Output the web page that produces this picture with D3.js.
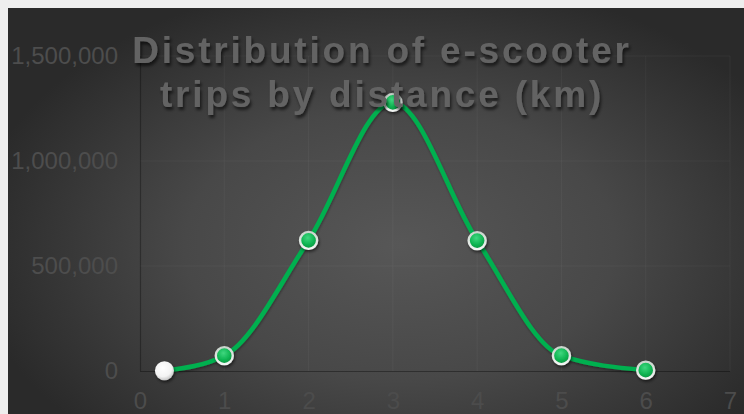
<!DOCTYPE html>
<html>
<head>
<meta charset="utf-8">
<script src="https://cdn.jsdelivr.net/npm/d3@7"></script>
<style>
  html, body { margin: 0; padding: 0; background: #eeeeee; }
  svg { display: block; }
</style>
</head>
<body>
<svg id="chart" width="744" height="414"></svg>
<script>
// Trips per distance bucket (km)
const distanceKm = [0.29, 1, 2, 3, 4, 5, 6];
const tripCounts = [1000, 73000, 622000, 1279000, 621000, 73000, 4000];
const xTickValues = [0, 1, 2, 3, 4, 5, 6, 7];
const yTickValues = [0, 500000, 1000000, 1500000];
const titleLines = ["Distribution of e-scooter", "trips by distance (km)"];

const svg = d3.select("#chart");
const W = 744, H = 414;
const plot = { left: 140, right: 730, top: 56, bottom: 371 };

const defs = svg.append("defs");

// panel background: soft elliptical light in the middle
const bg = defs.append("radialGradient")
  .attr("id", "bgGrad").attr("gradientUnits", "userSpaceOnUse")
  .attr("cx", 0).attr("cy", 0).attr("r", 1)
  .attr("gradientTransform", "translate(400,245) scale(430,270)");
bg.append("stop").attr("offset", 0).attr("stop-color", "#575757");
bg.append("stop").attr("offset", 0.5).attr("stop-color", "#484848");
bg.append("stop").attr("offset", 0.8).attr("stop-color", "#363636");
bg.append("stop").attr("offset", 1).attr("stop-color", "#2a2a2a");

// marker fills
const g1 = defs.append("radialGradient").attr("id", "dotGreen")
  .attr("cx", "45%").attr("cy", "35%").attr("r", "65%");
g1.append("stop").attr("offset", 0).attr("stop-color", "#3fd77f");
g1.append("stop").attr("offset", 0.6).attr("stop-color", "#0fb552");
g1.append("stop").attr("offset", 1).attr("stop-color", "#07913f");

const ring = defs.append("linearGradient").attr("id", "ringGrad")
  .attr("x1", 0).attr("y1", 0).attr("x2", 0).attr("y2", 1);
ring.append("stop").attr("offset", 0).attr("stop-color", "#c9d4cc");
ring.append("stop").attr("offset", 1).attr("stop-color", "#f2f5f3");

const w1 = defs.append("radialGradient").attr("id", "dotWhite")
  .attr("cx", "42%").attr("cy", "35%").attr("r", "70%");
w1.append("stop").attr("offset", 0).attr("stop-color", "#ffffff");
w1.append("stop").attr("offset", 0.65).attr("stop-color", "#f3f3f3");
w1.append("stop").attr("offset", 1).attr("stop-color", "#bdbdbd");

const shadow = defs.append("filter").attr("id", "dotShadow")
  .attr("x", "-50%").attr("y", "-50%").attr("width", "200%").attr("height", "200%");
shadow.append("feDropShadow").attr("dx", 1).attr("dy", 2).attr("stdDeviation", 1.5)
  .attr("flood-color", "#000").attr("flood-opacity", 0.55);

const tShadow = defs.append("filter").attr("id", "titleShadow")
  .attr("x", "-10%").attr("y", "-30%").attr("width", "120%").attr("height", "160%");
tShadow.append("feDropShadow").attr("dx", 1.5).attr("dy", 3).attr("stdDeviation", 1.8)
  .attr("flood-color", "#000").attr("flood-opacity", 0.6);

const lineShadow = defs.append("filter").attr("id", "lineShadow")
  .attr("x", "-10%").attr("y", "-10%").attr("width", "120%").attr("height", "120%");
lineShadow.append("feDropShadow").attr("dx", 0.5).attr("dy", 1.5).attr("stdDeviation", 1)
  .attr("flood-color", "#000").attr("flood-opacity", 0.35);

svg.append("rect").attr("x", 8).attr("y", 8).attr("width", W - 8).attr("height", H - 8)
  .attr("fill", "url(#bgGrad)");

const x = d3.scaleLinear().domain([0, 7]).range([plot.left, plot.right]);
const y = d3.scaleLinear().domain([0, 1500000]).range([plot.bottom, plot.top]);

// grid
const grid = svg.append("g");
grid.selectAll(".gy").data(yTickValues.slice(1)).join("line")
  .attr("x1", plot.left).attr("x2", plot.right)
  .attr("y1", d => y(d)).attr("y2", d => y(d))
  .attr("stroke", "rgba(255,255,255,0.045)").attr("stroke-width", 1);
grid.selectAll(".gx").data(xTickValues.slice(1)).join("line")
  .attr("x1", d => x(d)).attr("x2", d => x(d))
  .attr("y1", plot.top).attr("y2", plot.bottom)
  .attr("stroke", "rgba(255,255,255,0.04)").attr("stroke-width", 1);

// axis lines
svg.append("line").attr("x1", plot.left).attr("x2", plot.right)
  .attr("y1", y(0) + 0.5).attr("y2", y(0) + 0.5)
  .attr("stroke", "rgba(0,0,0,0.35)").attr("stroke-width", 1.2);
svg.append("line").attr("x1", plot.left + 0.5).attr("x2", plot.left + 0.5)
  .attr("y1", plot.top).attr("y2", plot.bottom)
  .attr("stroke", "rgba(0,0,0,0.3)").attr("stroke-width", 1.2);

// tick labels
const fmt = d3.format(",");
const yAxis = d3.axisLeft(y).tickValues(yTickValues).tickFormat(fmt).tickSize(0).tickPadding(22);
const yG = svg.append("g").attr("transform", `translate(${plot.left},0)`).call(yAxis);
yG.select(".domain").remove();
yG.selectAll("text")
  .attr("fill", "#4d4d4d").attr("font-family", "'Liberation Sans', Arial, sans-serif")
  .attr("font-size", 24);

const xAxis = d3.axisBottom(x).tickValues(xTickValues).tickFormat(d3.format("d")).tickSize(0).tickPadding(21);
const xG = svg.append("g").attr("transform", `translate(0,${plot.bottom})`).call(xAxis);
xG.select(".domain").remove();
xG.selectAll("text")
  .attr("fill", "#4c4c4c").attr("font-family", "'Liberation Sans', Arial, sans-serif")
  .attr("font-size", 24);

// series
const pts = distanceKm.map((d, i) => ({ x: d, y: tripCounts[i] }));
const line = d3.line().x(d => x(d.x)).y(d => y(d.y)).curve(d3.curveMonotoneX);
svg.append("path").datum(pts).attr("d", line)
  .attr("fill", "none").attr("stroke", "#00b04f").attr("stroke-width", 4.5)
  .attr("stroke-linejoin", "round").attr("filter", "url(#lineShadow)");

const dots = svg.append("g").attr("filter", "url(#dotShadow)");
dots.selectAll("circle.pt").data(pts.slice(1)).join("circle")
  .attr("class", "pt")
  .attr("cx", d => x(d.x)).attr("cy", d => y(d.y)).attr("r", 8.5)
  .attr("fill", "url(#dotGreen)").attr("stroke", "url(#ringGrad)").attr("stroke-width", 2.4);
dots.selectAll("circle.sel").data(pts.slice(0, 1)).join("circle")
  .attr("class", "sel")
  .attr("cx", d => x(d.x)).attr("cy", d => y(d.y)).attr("r", 9.5)
  .attr("fill", "url(#dotWhite)");

// title
const title = svg.append("text")
  .attr("text-anchor", "middle")
  .attr("font-family", "'Liberation Sans', Arial, sans-serif")
  .attr("font-weight", "bold").attr("font-size", 37)
  .attr("letter-spacing", 2.8)
  .attr("fill", "#646464").attr("filter", "url(#titleShadow)");
title.selectAll("tspan").data(titleLines).join("tspan")
  .attr("x", 382).attr("y", (d, i) => 63 + i * 44).text(d => d);
</script>
</body>
</html>
